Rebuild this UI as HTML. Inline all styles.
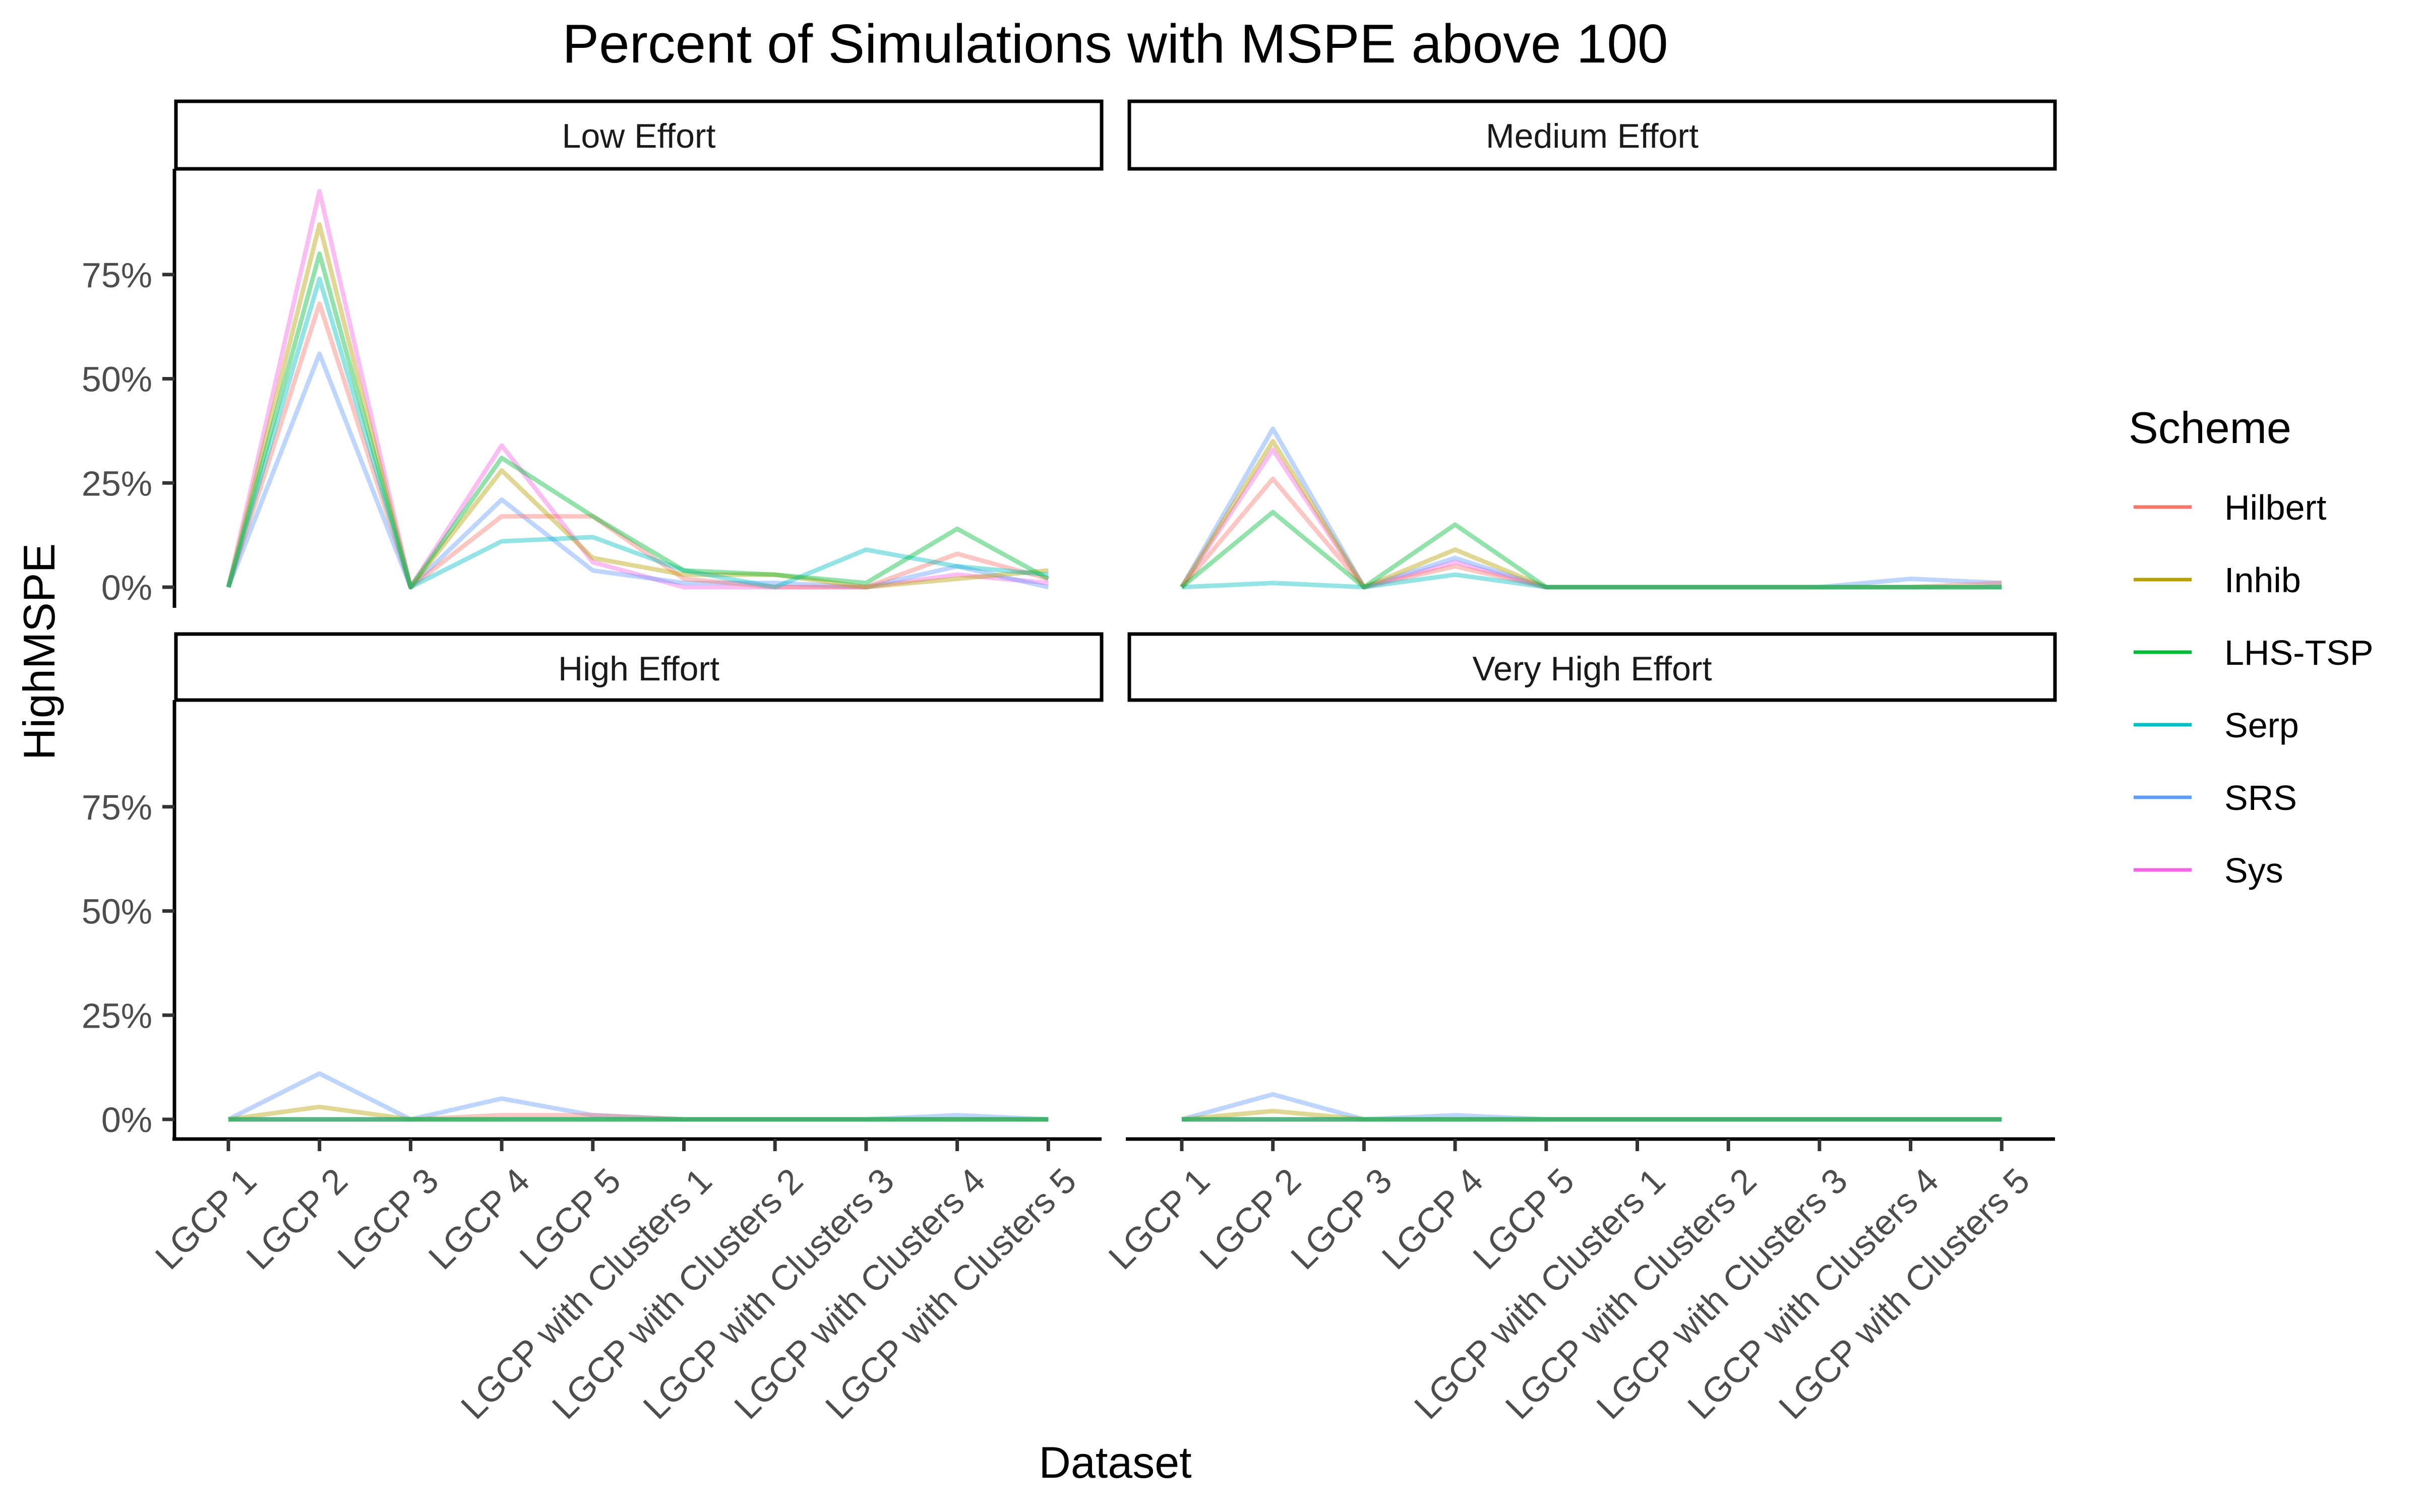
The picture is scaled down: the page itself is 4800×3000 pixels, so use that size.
<!DOCTYPE html>
<html><head><meta charset="utf-8"><style>
html,body{margin:0;padding:0;background:#fff}
svg{display:block}
text{font-family:"Liberation Sans",Arial,sans-serif}
</style></head><body>
<svg id="chart" width="4800" height="3000" viewBox="0 0 4800 3000" xmlns="http://www.w3.org/2000/svg">
<rect width="4800" height="3000" fill="#fff"/>
<text x="2212" y="124" font-size="109" text-anchor="middle" fill="#000">Percent of Simulations with MSPE above 100</text>
<text x="2212" y="2932" font-size="88" text-anchor="middle" fill="#000">Dataset</text>
<text transform="translate(108,1293) rotate(-90)" font-size="88" text-anchor="middle" fill="#000">HighMSPE</text>
<g id="panels"></g>
<g id="legend"></g>
</svg>
<script>
const categories = ["LGCP 1","LGCP 2","LGCP 3","LGCP 4","LGCP 5","LGCP with Clusters 1","LGCP with Clusters 2","LGCP with Clusters 3","LGCP with Clusters 4","LGCP with Clusters 5"];
const schemes = ["Hilbert","Inhib","LHS-TSP","Serp","SRS","Sys"];
const colors = ["#F8766D","#B79F00","#00BA38","#00BFC4","#619CFF","#F564E3"];
const facets = ["Low Effort","Medium Effort","High Effort","Very High Effort"];
const yTicks = [0,25,50,75];
const yTickLabels = ["0%","25%","50%","75%"];

const lowHilbert = [0,68,0,17,17,2,0,0,8,2];
const lowInhib   = [0,87,0,28,7,3,3,0,2,4];
const lowLHS     = [0,80,0,31,17,4,3,1,14,2];
const lowSerp    = [0,74,0,11,12,4,0,9,5,3];
const lowSRS     = [0,56,0,21,4,1,1,0,5,0];
const lowSys     = [0,95,0,34,6,0,0,0,3,1];

const medHilbert = [0,26,0,5,0,0,0,0,0,1];
const medInhib   = [0,35,0,9,0,0,0,0,0,0];
const medLHS     = [0,18,0,15,0,0,0,0,0,0];
const medSerp    = [0,1,0,3,0,0,0,0,0,0];
const medSRS     = [0,38,0,7,0,0,0,0,2,1];
const medSys     = [0,33,0,6,0,0,0,0,0,0];

const highHilbert = [0,0,0,1,1,0,0,0,0,0];
const highInhib   = [0,3,0,0,0,0,0,0,0,0];
const highLHS     = [0,0,0,0,0,0,0,0,0,0];
const highSerp    = [0,0,0,0,0,0,0,0,0,0];
const highSRS     = [0,11,0,5,1,0,0,0,1,0];
const highSys     = [0,0,0,0,0,0,0,0,0,0];

const vhHilbert = [0,0,0,0,0,0,0,0,0,0];
const vhInhib   = [0,2,0,0,0,0,0,0,0,0];
const vhLHS     = [0,0,0,0,0,0,0,0,0,0];
const vhSerp    = [0,0,0,0,0,0,0,0,0,0];
const vhSRS     = [0,6,0,1,0,0,0,0,0,0];
const vhSys     = [0,0,0,0,0,0,0,0,0,0];

const facetSeries = [
  [lowHilbert,lowInhib,lowLHS,lowSerp,lowSRS,lowSys],
  [medHilbert,medInhib,medLHS,medSerp,medSRS,medSys],
  [highHilbert,highInhib,highLHS,highSerp,highSRS,highSys],
  [vhHilbert,vhInhib,vhLHS,vhSerp,vhSRS,vhSys]
];
const drawOrder = [5,4,0,1,3,2];

const NS="http://www.w3.org/2000/svg";
function mk(tag,attrs,parent){const e=document.createElementNS(NS,tag);for(const k in attrs)e.setAttribute(k,attrs[k]);parent.appendChild(e);return e;}
const root=document.getElementById('panels');
const panelLeft=[349,2240], panelW=1836;
const stripTop=[201,1258], stripH=[134,131];
const zeroY=[1165,2221], pctPx=8.27;
const x0=104, dx=180.7;

facets.forEach((name,fi)=>{
  const col=fi%2,row=Math.floor(fi/2);
  const L=panelLeft[col];
  const g=mk('g',{},root);
  
  
  const xS=i=>L+x0+i*dx;
  const yS=v=>zeroY[row]-v*pctPx;
  const st=mk('rect',{x:L,y:stripTop[row],width:panelW,height:stripH[row],fill:'#fff',stroke:'#000','stroke-width':7},g);
  
  
  const stt=mk('text',{x:L+panelW/2,y:stripTop[row]+92,'font-size':68,'text-anchor':'middle',fill:'#1a1a1a'},g);
  stt.textContent=name;
  
  
  const plotTop=stripTop[row]+stripH[row];
  const plotBot=row===0?1206:2260;
  drawOrder.forEach(si=>{
    const vals=facetSeries[fi][si];
    const pts=vals.map((v,i)=>xS(i)+','+yS(v)).join(' ');
    const pl=mk('polyline',{points:pts,fill:'none',stroke:colors[si],'stroke-width':9,'stroke-opacity':0.42,'stroke-linejoin':'round'},g);
    
    
  });
  if(col===0){
    const ya=mk('line',{x1:L-3,x2:L-3,y1:plotTop,y2:plotBot,stroke:'#000','stroke-width':7},g);
    
    
    yTicks.forEach((t,ti)=>{
      const tk=mk('line',{x1:L-27,x2:L-3,y1:yS(t),y2:yS(t),stroke:'#333','stroke-width':7},g);
      
      
      const tl=mk('text',{x:L-47,y:yS(t)+25,'font-size':70,'text-anchor':'end',fill:'#4d4d4d'},g);
      tl.textContent=yTickLabels[ti];
      
      
    });
  }
  if(row===1){
    const xa=mk('line',{x1:L-7,x2:L+panelW,y1:2260,y2:2260,stroke:'#000','stroke-width':7},g);
    
    
    categories.forEach((c,i)=>{
      const tk=mk('line',{x1:xS(i),x2:xS(i),y1:2260,y2:2284,stroke:'#333','stroke-width':7},g);
      
      
      const tl=mk('text',{transform:'translate('+(xS(i)+24)+',2312) rotate(-45)','font-size':70,'text-anchor':'end',dy:'0.72em',fill:'#4d4d4d'},g);
      tl.textContent=c;
      
      
    });
  }
});

const lg=document.getElementById('legend');
const lt=mk('text',{x:4222,y:879,'font-size':88,fill:'#000'},lg);
lt.textContent='Scheme';


schemes.forEach((s,i)=>{
  const y=1006+i*144;
  const ln=mk('line',{x1:4232,x2:4347,y1:y,y2:y,stroke:colors[i],'stroke-width':7},lg);
  
  
  const tx=mk('text',{x:4412,y:y+25,'font-size':70,fill:'#000'},lg);
  tx.textContent=s;
  
  
});
</script>
</body></html>
